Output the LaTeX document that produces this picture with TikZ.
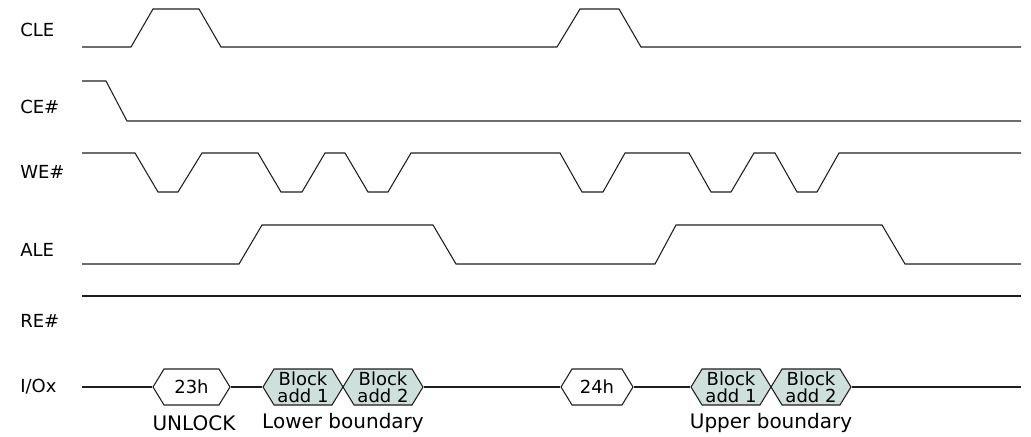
\documentclass[tikz,border=0pt]{standalone}
\usepackage{fontspec}
\setmainfont{DejaVu Sans}
\definecolor{BlockTeal}{RGB}{205, 224, 220}
\definecolor{WaveInk}{RGB}{30, 30, 30}
\usetikzlibrary{shapes.symbols}

\begin{document}
\begin{tikzpicture}[x=0.75pt, y=-0.75pt,
                wave/.style={draw=WaveInk, line width=0.8pt, line join=miter},
                signame/.style={anchor=west, inner sep=0pt, font=\fontsize{13.5}{16}\selectfont},
                hexbus/.style={draw=WaveInk, line width=0.8pt, signal, signal to=west and east, signal pointer angle=117, inner sep=0pt, minimum height=27pt, minimum width=60pt, align=center, font=\fontsize{13.5}{12.75}\selectfont},
                blockbus/.style={hexbus, fill=BlockTeal},
                cmdlabel/.style={inner sep=0pt, font=\fontsize{15}{17}\selectfont}]

                \useasboundingbox (0,0) rectangle (1031,436);

                % Signal names
                \node[signame] (cle) at (20,30) {CLE};
                \node[signame] (ce) at (20,107) {CE\#};
                \node[signame] (we) at (20,172) {WE\#};
                \node[signame] (ale) at (20,250) {ALE};
                \node[signame] (re) at (20,321) {RE\#};
                \node[signame] (io) at (20,387) {I/Ox};

                % Waveforms
                \draw[wave] (82,47) -- (131,47) -- (153,9) -- (199,9) -- (221,47) -- (557,47) -- (580,9) -- (619,9) -- (641,47) -- (1021,47);
                \draw[wave] (82,81) -- (106,81) -- (127,121) -- (1021,121);
                \draw[wave] (82,153) -- (135,153) -- (158,192) -- (178,192) -- (202,153) -- (258,153) -- (281,192) -- (302,192) -- (325,153)
                    -- (345,153) -- (368,192) -- (388,192) -- (411,153) -- (560,153) -- (582,192) -- (603,192) -- (625,153)
                    -- (689,153) -- (711,192) -- (731,192) -- (754,153) -- (775,153) -- (797,192) -- (817,192) -- (839,153) -- (1021,153);
                \draw[wave] (82,264) -- (239,264) -- (262,225) -- (433,225) -- (456,264) -- (655,264) -- (676,225) -- (882,225) -- (905,264) -- (1021,264);
                \draw[wave] (82,296) -- (1021,296);

                % Bus cycles
                \node[hexbus, minimum width=57.75pt] (cmd1) at (191.5,387) {23h};
                \node[blockbus] (lowA) at (303,387) {Block\\add 1};
                \node[blockbus] (lowB) at (383,387) {Block\\add 2};
                \node[hexbus, minimum width=54pt] (cmd2) at (597,387) {24h};
                \node[blockbus] (upA) at (731,387) {Block\\add 1};
                \node[blockbus] (upB) at (811,387) {Block\\add 2};

                \coordinate (ioS) at (82,387);
                \coordinate (ioE) at (1021,387);

                % Bus line
                \draw[wave] (ioS) -- (cmd1.west);
                \draw[wave] (cmd1.east) -- (lowA.west);
                \draw[wave] (lowB.east) -- (cmd2.west);
                \draw[wave] (cmd2.east) -- (upA.west);
                \draw[wave] (upB.east) -- (ioE);

                % Cycle labels
                \node[cmdlabel] (unlock) at (194,423) {UNLOCK};
                \node[cmdlabel] (lower) at (343,423) {Lower boundary};
                \node[cmdlabel] (upper) at (771,423) {Upper boundary};
            \end{tikzpicture}
\end{document}
